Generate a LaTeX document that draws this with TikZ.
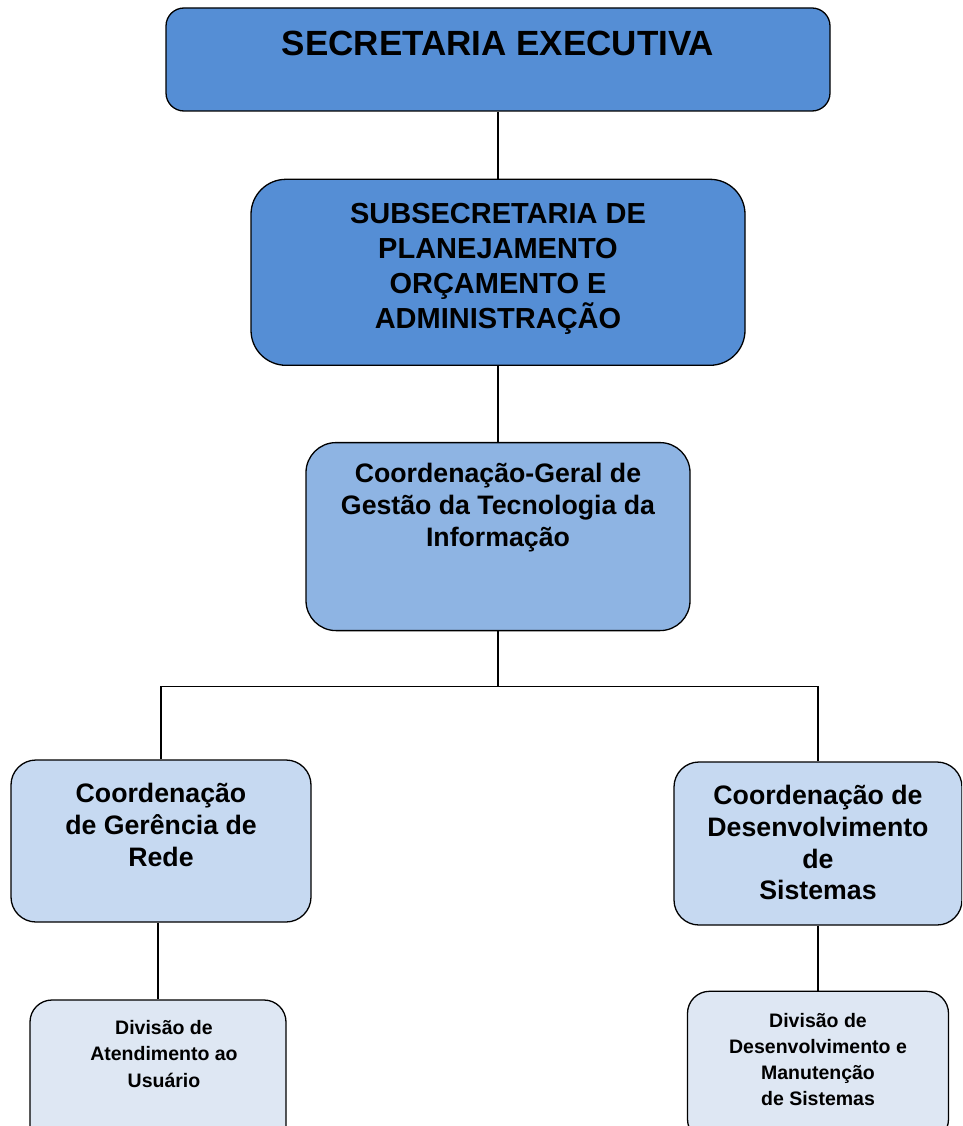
\documentclass[tikz,border=0pt]{standalone}
\usepackage{fontspec}
\setmainfont{Liberation Sans}
\usetikzlibrary{positioning}
\definecolor{darkblue}{RGB}{85,142,213}
\definecolor{midblue}{RGB}{142,180,227}
\definecolor{lightblue}{RGB}{198,217,241}
\definecolor{paleblue}{RGB}{222,231,243}
\tikzset{box node/.style={draw,line width=1.3pt,inner sep=0pt},
  dark node/.style={box node,fill=darkblue},
  mid node/.style={box node,fill=midblue,rounded corners=30pt},
  light node/.style={box node,fill=lightblue,rounded corners=25pt},
  div node/.style={box node,fill=paleblue,rounded corners=22pt},
  text node/.style={inner sep=0pt,outer sep=0pt,align=center,font=\bfseries}}

\begin{document}
\begin{tikzpicture}[x=1pt,y=1pt]
            \clip (0,0) rectangle (962,-1126);
            \node[dark node, rounded corners=18pt, minimum width=664pt, minimum height=103pt] (SE) at (498,-59.5) {};
            \node[dark node, rounded corners=35pt, minimum width=494pt, minimum height=186pt] (SP) [below = 67pt of SE] {};
            \node[mid node, minimum width=384pt, minimum height=188pt] (CG) [below = 76pt of SP] {};
            \node[light node, minimum width=300pt, minimum height=162pt] (CR) at (161,-841) {};
            \node[light node, minimum width=288pt, minimum height=163pt] (CD) at (818,-843.5) {};
            \node[div node, minimum width=256pt, minimum height=150pt] (DA) at (158,-1075) {};
            \node[div node, minimum width=261pt, minimum height=150pt] (DM) [below = 65pt of CD] {};

            \node[text node, font=\fontsize{35}{40}\selectfont\bfseries] (SE-t) [below = 24pt of SE.north] {SECRETARIA EXECUTIVA};
            \node[text node, font=\fontsize{29}{35}\selectfont\bfseries] (SP-t) [below = 25pt of SP.north] {SUBSECRETARIA DE\\ PLANEJAMENTO\\ ORÇAMENTO E\\ ADMINISTRAÇÃO};
            \node[text node, font=\fontsize{26.7}{32}\selectfont\bfseries] (CG-t) [below = 21pt of CG.north] {Coordenação-Geral de\\ Gestão da Tecnologia da\\ Informação};
            \node[text node, font=\fontsize{26.7}{32}\selectfont\bfseries] (CR-t) [below = 24pt of CR.north] {Coordenação\\ de Gerência de\\ Rede};
            \node[text node, font=\fontsize{26.7}{31.7}\selectfont\bfseries] (CD-t) [below = 24pt of CD.north] {Coordenação de\\ Desenvolvimento\\ de\\ Sistemas};
            \node[text node, font=\fontsize{19.5}{26.5}\selectfont\bfseries] (DA-t) [below = 21pt of DA.north, xshift=6pt] {Divisão de\\ Atendimento ao\\ Usuário};
            \node[text node, font=\fontsize{19.5}{26}\selectfont\bfseries] (DM-t) [below = 23pt of DM.north] {Divisão de\\ Desenvolvimento e\\ Manutenção\\ de Sistemas};

            \path (CG.south) ++(0,-55) coordinate (split);
            \path[draw, line width=1.3pt]
            (SE) edge (SP)
            (SP) edge (CG)
            (CG.south) edge (split)
            (CD) edge (DM);
            \draw[line width=1.3pt] (CR.north) |- (split) -| (CD.north);
            \draw[line width=1.3pt] (DA.north |- CR.south) -- (DA.north);
        \end{tikzpicture}
\end{document}
